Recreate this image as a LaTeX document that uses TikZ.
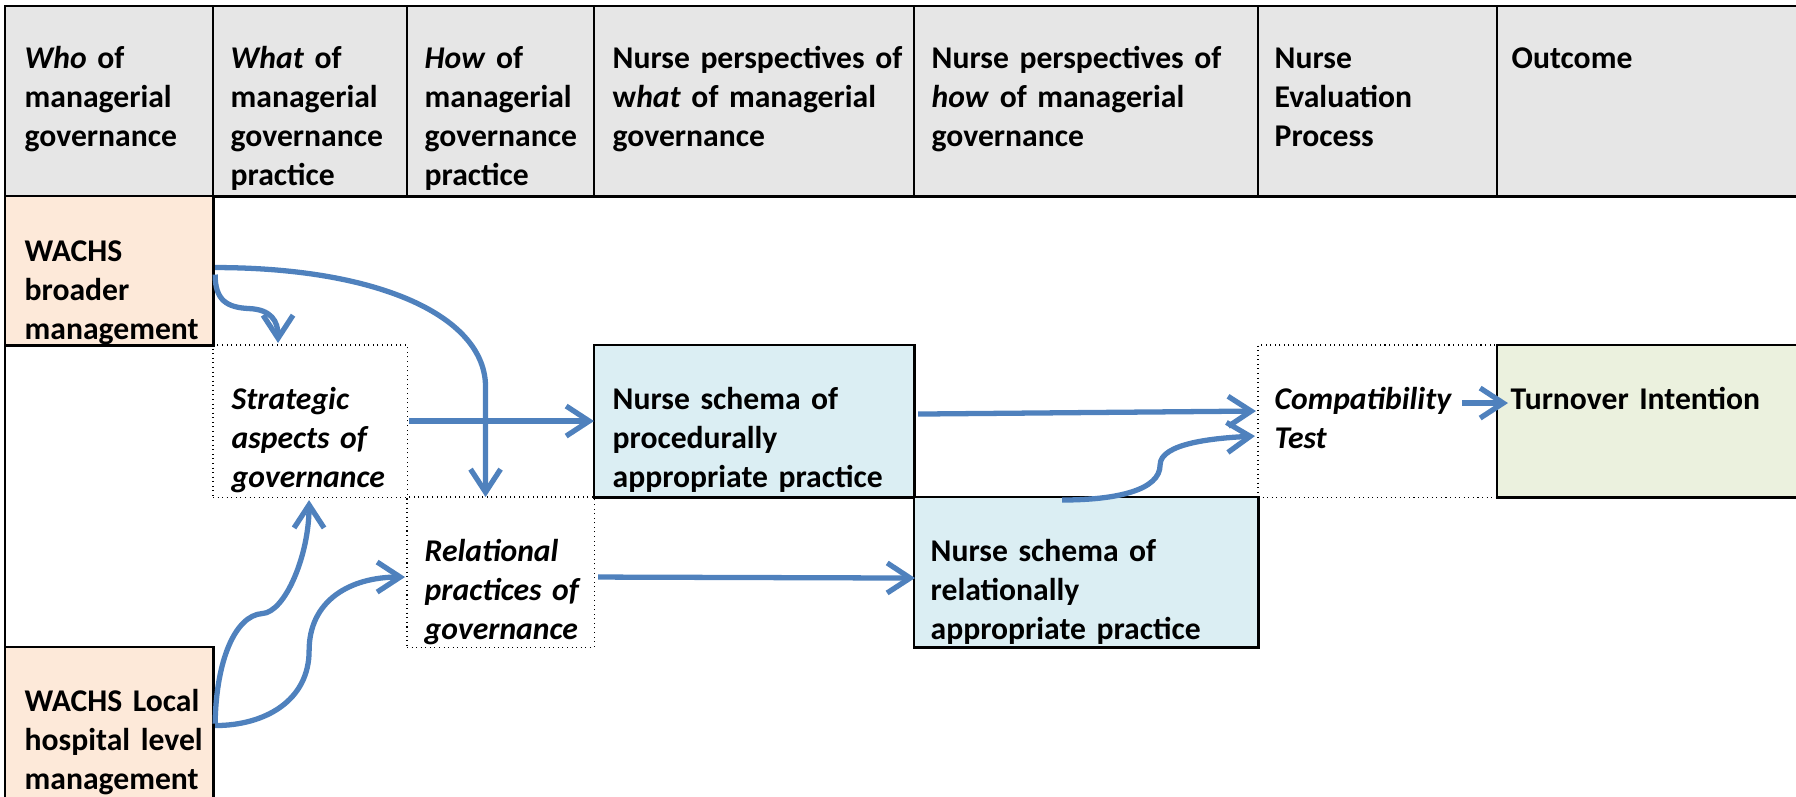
\documentclass[tikz,border=0pt]{standalone}
\usepackage{fontspec}
\setmainfont{Carlito}
\usetikzlibrary{arrows.meta,calc}
\definecolor{hdrgray}{RGB}{230,230,230}
\definecolor{peach}{RGB}{253,233,217}
\definecolor{paleblue}{RGB}{219,238,243}
\definecolor{palegreen}{RGB}{235,241,222}
\definecolor{arrowblue}{RGB}{79,129,189}
\tikzset{
  cell/.style={draw=black, line width=0.8pt, inner sep=0pt, outer sep=0pt, anchor=north west},
  dotcell/.style={draw=black, densely dotted, line width=0.3pt, inner sep=0pt, outer sep=0pt, anchor=north west},
  txt/.style={anchor=base west, inner sep=0pt, text width=3.3cm, align=left,
    font=\fontsize{9.0}{11.1}\selectfont\bfseries},
  flow/.style={draw=arrowblue, line width=1.5pt, line join=round,
    -{Straight Barb[length=2.3mm,width=3mm]}}
}
\begin{document}
\begin{tikzpicture}[x=0.01cm,y=-0.01cm]
      \useasboundingbox (0,0) rectangle (1796,796);
      % header row
      \node[cell, fill=hdrgray, minimum width=2.08cm, minimum height=1.90cm] (h1) at (5,6) {};
      \node[cell, fill=hdrgray, minimum width=1.94cm, minimum height=1.90cm] (h2) at (213,6) {};
      \node[cell, fill=hdrgray, minimum width=1.87cm, minimum height=1.90cm] (h3) at (407,6) {};
      \node[cell, fill=hdrgray, minimum width=3.20cm, minimum height=1.90cm] (h4) at (594,6) {};
      \node[cell, fill=hdrgray, minimum width=3.44cm, minimum height=1.90cm] (h5) at (914,6) {};
      \node[cell, fill=hdrgray, minimum width=2.39cm, minimum height=1.90cm] (h6) at (1258,6) {};
      \node[cell, fill=hdrgray, minimum width=3.13cm, minimum height=1.90cm] (h7) at (1497,6) {};
      \node[txt] (who) at ($(h1.north west)+(19,62)$) {\textit{Who} of\\managerial\\governance};
      \node[txt] (what) at ($(h2.north west)+(17,62)$) {\textit{What} of\\managerial\\governance\\practice};
      \node[txt] (how) at ($(h3.north west)+(17,62)$) {\textit{How} of\\managerial\\governance\\practice};
      \node[txt] (perwhat) at ($(h4.north west)+(18,62)$) {Nurse perspectives of\\{\upshape w}\textit{hat} of managerial\\governance};
      \node[txt] (perhow) at ($(h5.north west)+(17,62)$) {Nurse perspectives of\\\textit{how} of managerial\\governance};
      \node[txt] (evalproc) at ($(h6.north west)+(16,62)$) {Nurse\\Evaluation\\Process};
      \node[txt] (outcome) at ($(h7.north west)+(14,62)$) {Outcome};
      % dotted cells
      \node[dotcell, minimum width=1.94cm, minimum height=1.52cm] (strat) at (213,345) {};
      \node[dotcell, minimum width=1.87cm, minimum height=1.50cm] (rel) at (407,497) {};
      \node[dotcell, minimum width=2.39cm, minimum height=1.52cm] (comp) at (1258,345) {};
      % solid cells
      \node[cell, fill=peach, minimum width=2.08cm, minimum height=1.49cm] (wbm) at (5,196) {};
      \node[cell, fill=peach, minimum width=2.08cm, minimum height=1.63cm] (wlm) at (5,647) {};
      \node[cell, fill=paleblue, minimum width=3.20cm, minimum height=1.52cm] (nsp) at (594,345) {};
      \node[cell, fill=paleblue, minimum width=3.44cm, minimum height=1.50cm] (nsr) at (914,497) {};
      \node[cell, fill=palegreen, minimum width=3.13cm, minimum height=1.52cm] (turn) at (1497,345) {};
      \draw[line width=0.8pt] (wbm.south west) -- (wlm.north west);
      \node[txt] (wbmtext) at ($(wbm.north west)+(19,65)$) {WACHS\\broader\\management};
      \node[txt] (strattext) at ($(strat.north west)+(18,64)$) {\textit{Strategic\\aspects of\\governance}};
      \node[txt] (nsptext) at ($(nsp.north west)+(18,64)$) {Nurse schema of\\procedurally\\appropriate practice};
      \node[txt] (reltext) at ($(rel.north west)+(17,64)$) {\textit{Relational\\practices of\\governance}};
      \node[txt] (nsrtext) at ($(nsr.north west)+(16,64)$) {Nurse schema of\\relationally\\appropriate practice};
      \node[txt] (comptext) at ($(comp.north west)+(16,64)$) {\textit{Compatibility\\Test}};
      \node[txt] (turntext) at ($(turn.north west)+(13,64)$) {Turnover Intention};
      \node[txt] (wlmtext) at ($(wlm.north west)+(19,64)$) {WACHS Local\\hospital level\\management};
      % arrows
      \draw[flow] ($(wbm.east)+(2,4)$) .. controls +(0,26) and +(-22,-1) .. ($(wbm.east)+(36,38)$)
        .. controls +(22,1) and +(0,-22) .. ($(strat.north)+(-32,-2)$);
      \draw[flow] ($(wbm.east)+(2,-3)$) .. controls +(165,0) and +(0,-70) .. ($(rel.north)+(-15,-110)$)
        -- ($(rel.north)+(-15,0)$);
      \draw[flow] ($(strat.east)+(2,0)$) -- (nsp.west);
      \draw[flow] ($(nsp.east)+(4,-7)$) -- ($(comp.west)+(-2,-10)$);
      \draw[flow] ($(nsr.north)+(-24,3)$) .. controls +(55,0) and +(0,25) .. ($(nsr.north)+(74,-32)$)
        .. controls +(0,-22) and +(-40,2) .. ($(comp.west)+(-3,15)$);
      \draw[flow] ($(comp.east)+(-35,-18)$) -- ($(turn.west)+(11,-18)$);
      \draw[flow] ($(rel.east)+(4,5)$) -- ($(nsr.west)+(1,6)$);
      \draw[flow] ($(wlm.east)+(2,-5)$) .. controls +(1,-63) and +(-27,2) .. ($(wlm.east)+(49,-115)$)
        .. controls +(23,-1) and +(0,55) .. ($(strat.south)+(-1,3)$);
      \draw[flow] ($(wlm.east)+(2,-3)$) .. controls +(50,0) and +(0,50) .. ($(wlm.east)+(96,-78)$)
        .. controls +(0,-50) and +(-55,0) .. ($(rel.west)+(-2,5)$);
    \end{tikzpicture}
\end{document}
